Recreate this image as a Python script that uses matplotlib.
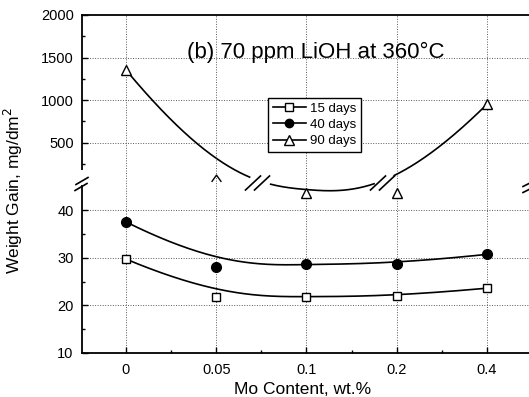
import numpy as np
import matplotlib
matplotlib.use('Agg')
import matplotlib.pyplot as plt
from matplotlib.lines import Line2D
from matplotlib.path import Path
from matplotlib.patches import Rectangle

plt.rcParams['font.family'] = ['Liberation Sans', 'DejaVu Sans']

# ---- data ----
categories = ['0', '0.05', '0.1', '0.2', '0.4']
days15 = [29.7, 21.8, 21.8, 21.9, 23.6]
days40 = [37.5, 28.1, 28.7, 28.7, 30.7]
days90 = [1353, 115, 43.5, 43.5, 950]
series_labels = ['15 days', '40 days', '90 days']
title_text = '(b) 70 ppm LiOH at 360°C'

# ---- broken y scale (lower 10-44.2, gap, upper 153-2000) ----
VB = np.array([10.0, 44.2, 153.0, 2000.0])
DB = np.array([0.0, 163.0, 181.0, 338.0])
s_lo = (DB[1] - DB[0]) / (VB[1] - VB[0])
s_hi = (DB[3] - DB[2]) / (VB[3] - VB[2])

def fwd(v):
    v = np.asarray(v, dtype=float)
    out = np.interp(v, VB, DB)
    out = np.where(v < VB[0], (v - VB[0]) * s_lo, out)
    out = np.where(v > VB[-1], DB[-1] + (v - VB[-1]) * s_hi, out)
    return out

def inv(d):
    d = np.asarray(d, dtype=float)
    out = np.interp(d, DB, VB)
    out = np.where(d < DB[0], VB[0] + d / s_lo, out)
    out = np.where(d > DB[-1], VB[-1] + (d - DB[-1]) / s_hi, out)
    return out

def bspline(cx, cy, k=3, n=600):
    cx = np.asarray(cx, float); cy = np.asarray(cy, float)
    m = len(cx)
    inner = np.linspace(0, 1, m - k + 1)
    t = np.concatenate([[0] * k, inner, [1] * k])
    u = np.linspace(0, 1, n)
    u[-1] = 1 - 1e-9
    def N(i, p, uu):
        if p == 0:
            return np.where((t[i] <= uu) & (uu < t[i + 1]), 1.0, 0.0)
        a = 0.0 if t[i + p] == t[i] else (uu - t[i]) / (t[i + p] - t[i]) * N(i, p - 1, uu)
        b = 0.0 if t[i + p + 1] == t[i + 1] else (t[i + p + 1] - uu) / (t[i + p + 1] - t[i + 1]) * N(i + 1, p - 1, uu)
        return a + b
    B = np.array([N(i, k, u) for i in range(m)])
    return B.T @ cx, B.T @ cy

W, H = 529, 397
fig = plt.figure(figsize=(W / 100, H / 100), dpi=100)
L, R, T, Bt = 82, 533, 15, 353
ax = fig.add_axes([L / W, (H - Bt) / H, (R - L) / W, (Bt - T) / H])
ax.set_yscale('function', functions=(fwd, inv))
ax.set_ylim(10, 2000)
x = np.arange(len(categories))
ax.set_xlim(-0.4875, 4.51)

# grid
gkw = dict(color='0.35', lw=0.7, linestyle=(0, (1, 1.6)), zorder=1)
for xi in x:
    ax.axvline(xi, **gkw)
for yv in [20, 30, 40, 500, 1000, 1500]:
    ax.axhline(yv, **gkw)

lw = 1.2
# 15 days
bx, by = bspline(x, days15)
ax.plot(bx, by, color='k', lw=lw, zorder=3)
ax.plot(x, days15, ls='none', marker='s', ms=6.3, mfc='white', mec='k', mew=1.0, zorder=4)
# 40 days
bx, by = bspline(x, days40)
ax.plot(bx, by, color='k', lw=lw, zorder=3)
ax.plot(x, days40, ls='none', marker='o', ms=7, mfc='k', mec='k', zorder=4)
# 90 days (spline in display space of the broken axis)
bx, bd = bspline(x, fwd(days90))
by = inv(bd)
mask = ((bx > 1.37) & (bx < 1.6)) | ((bx > 2.75) & (bx < 2.97))
by = np.where(mask, np.nan, by)
ax.plot(bx, by, color='k', lw=lw, zorder=3, clip_on=False)
idx_full = [0, 2, 3, 4]
ax.plot(x[idx_full], np.array(days90)[idx_full], ls='none', marker='^', ms=7.5,
        mfc='white', mec='k', mew=1.0, zorder=4, clip_on=False)
chev = Path([(-1, -0.7), (0, 0.7), (1, -0.7)], [Path.MOVETO, Path.LINETO, Path.LINETO])
ax.plot([x[1]], [days90[1]], ls='none', marker=chev, ms=7, mfc='none', mec='k', mew=1.0, zorder=4)

# ticks
ax.set_xticks(x)
ax.set_xticklabels(categories)
ax.set_xticks([0.5, 1.5, 2.5, 3.5], minor=True)
ax.set_yticks([10, 20, 30, 40, 500, 1000, 1500, 2000])
ax.set_yticklabels(['10', '20', '30', '40', '500', '1000', '1500', '2000'])
ax.set_yticks([15, 25, 35, 250, 750, 1250, 1750], minor=True)
ax.yaxis.set_minor_formatter(plt.NullFormatter())
ax.tick_params(which='both', direction='in', width=1.0, labelsize=10.5, colors='k')
ax.tick_params(which='major', length=4.5)
ax.tick_params(which='minor', length=2.5)
ax.tick_params(axis='y', pad=6)
ax.tick_params(axis='x', pad=7)
for s in ax.spines.values():
    s.set_linewidth(1.3)
    s.set_color('k')

# spine gap on the left axis
ax.add_patch(Rectangle((-0.01, (338 - 170) / 338), 0.02, (170 - 155) / 338,
                       transform=ax.transAxes, facecolor='white', edgecolor='none',
                       zorder=6, clip_on=False))

def slash(cx, cy, w, h, lwid=1.2):
    fig.add_artist(Line2D([(cx - w / 2) / W, (cx + w / 2) / W],
                          [(H - (cy + h / 2)) / H, (H - (cy - h / 2)) / H],
                          color='k', lw=lwid, zorder=10))

slash(82, 181, 12, 7)
slash(81, 187, 12, 7)
slash(253, 183, 15, 14)
slash(262, 183, 15, 14)
slash(378, 183, 15, 14)
slash(387, 183, 15, 14)
slash(528, 184, 10, 5)
slash(528, 190, 10, 5)

# legend
handles = [
    Line2D([], [], color='k', lw=1.2, marker='s', ms=5.5, mfc='white', mec='k'),
    Line2D([], [], color='k', lw=1.2, marker='o', ms=6, mfc='k', mec='k'),
    Line2D([], [], color='k', lw=1.2, marker='^', ms=6.5, mfc='white', mec='k'),
]
leg = ax.legend(handles, series_labels, loc='upper left',
                bbox_to_anchor=((268 - L) / (R - L), (Bt - 98) / (Bt - T)),
                fontsize=9.5, frameon=True, fancybox=False, framealpha=1,
                edgecolor='k', borderpad=0.35, labelspacing=0.3,
                handlelength=2.5, handletextpad=0.35, borderaxespad=0)
leg.get_frame().set_linewidth(1.0)
leg.set_zorder(8)

fig.text(316 / W, (H - 52) / H, title_text, fontsize=16, ha='center', va='center')
fig.text(303 / W, (H - 389) / H, 'Mo Content, wt.%', fontsize=12.5, ha='center', va='center')
fig.text(13 / W, (H - 190) / H, 'Weight Gain, mg/dm$^2$', fontsize=12.5, ha='center',
         va='center', rotation=90)

fig.savefig('out.png', dpi=100)
